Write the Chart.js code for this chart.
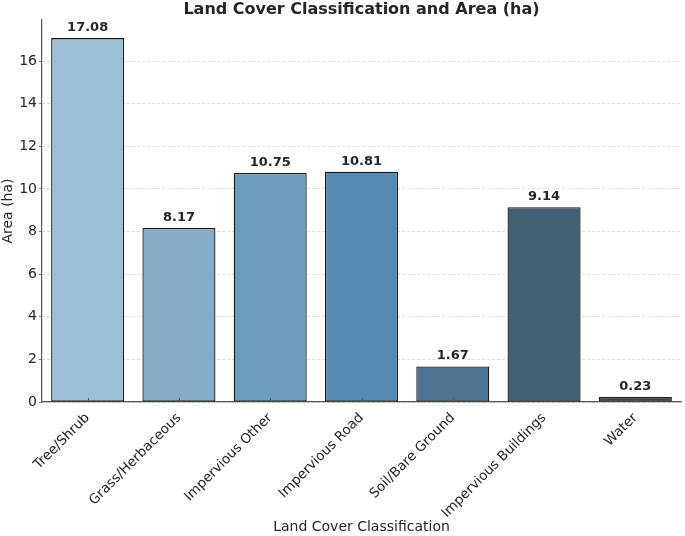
<!DOCTYPE html>
<html>
<head>
<meta charset="utf-8">
<script src="https://cdn.jsdelivr.net/npm/chart.js@4.4.0/dist/chart.umd.min.js"></script>
<style>
html,body{margin:0;padding:0;background:#fff;}
#wrap{width:685px;height:536px;}
</style>
</head>
<body>
<div id="wrap"><canvas id="c" width="685" height="536"></canvas></div>
<script>
const categories = ["Tree/Shrub","Grass/Herbaceous","Impervious Other","Impervious Road","Soil/Bare Ground","Impervious Buildings","Water"];
const areaValues = [17.08, 8.17, 10.75, 10.81, 1.67, 9.14, 0.23];
const barColors = ["#9EBFD4","#85AEC6","#6B9DBE","#558BB1","#4E7593","#425F73","#36454F"];
const yTicks = [0,2,4,6,8,10,12,14,16];

const FONT = "'DejaVu Sans', sans-serif";
const TXT = "#262626";

const overlay = {
  id: 'overlay',
  afterDatasetsDraw(chart) {
    const ctx = chart.ctx;
    const meta = chart.getDatasetMeta(0);
    const xs = chart.scales.x, ys = chart.scales.y;
    ctx.save();
    ctx.strokeStyle = "#555";
    ctx.lineWidth = 1;
    categories.forEach((c, i) => {
      const x = Math.round(xs.getPixelForValue(i)) + 0.5;
      ctx.beginPath();
      ctx.moveTo(x, ys.getPixelForValue(0));
      ctx.lineTo(x, ys.getPixelForValue(0) - 4);
      ctx.stroke();
    });
    ctx.fillStyle = TXT;
    ctx.font = "bold 13px " + FONT;
    ctx.textAlign = "center";
    ctx.textBaseline = "bottom";
    meta.data.forEach((bar, i) => {
      ctx.fillText(areaValues[i].toFixed(2), bar.x, bar.y - 4);
    });
    ctx.font = "bold 16px " + FONT;
    ctx.textBaseline = "middle";
    const ca = chart.chartArea;
    ctx.fillText("Land Cover Classification and Area (ha)", (ca.left + ca.right) / 2, 10);
    ctx.restore();
  }
};

new Chart(document.getElementById('c'), {
  type: 'bar',
  data: {
    labels: categories,
    datasets: [{
      data: areaValues,
      backgroundColor: barColors,
      borderColor: "#1a1a1a",
      borderWidth: 1.3,
      borderSkipped: false,
      barPercentage: 0.8,
      categoryPercentage: 1.0
    }]
  },
  options: {
    responsive: false,
    animation: false,
    devicePixelRatio: 1,
    layout: { padding: { top: 20, right: 4, left: 0, bottom: 0 } },
    plugins: { legend: { display: false }, title: { display: false }, tooltip: { enabled: false } },
    scales: {
      x: {
        afterFit(s) { s.height = 134; },
        grid: { display: false },
        border: { display: true, color: "#555", width: 1.2 },
        ticks: {
          color: TXT, font: { family: FONT, size: 13.5 },
          minRotation: 45, maxRotation: 45, padding: 0, autoSkip: false
        },
        title: { display: true, text: "Land Cover Classification", color: TXT,
                 font: { family: FONT, size: 14 }, padding: { top: 0, bottom: 0 } }
      },
      y: {
        min: 0, max: 17.93,
        afterFit(s) { s.width = 42; },
        afterBuildTicks(s) { s.ticks = yTicks.map(v => ({ value: v })); },
        grid: { color: "#d4d4d4", lineWidth: 0.8, drawTicks: true, tickLength: 3, tickColor: "#555", tickBorderDash: [] },
        border: { display: true, color: "#555", width: 1.2, dash: [3, 2] },
        ticks: { color: TXT, font: { family: FONT, size: 14 }, padding: 2 },
        title: { display: true, text: "Area (ha)", color: TXT,
                 font: { family: FONT, size: 14 }, padding: { top: 0, bottom: 1 } }
      }
    }
  },
  plugins: [overlay]
});
</script>
</body>
</html>
